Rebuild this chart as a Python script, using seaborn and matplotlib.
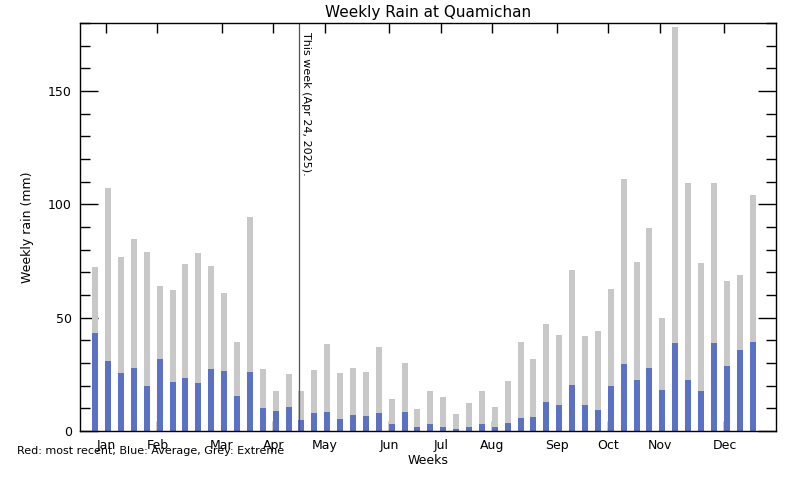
import numpy as np
import matplotlib
matplotlib.use("Agg")
import matplotlib.pyplot as plt
import seaborn as sns
import pandas as pd
from matplotlib.ticker import MultipleLocator

# Datos semanales (mm)
weeks = list(range(1, 53))
extreme = [72.3, 107.2, 76.8, 84.7, 79.0, 64.0, 62.2, 73.7, 78.5, 72.8,
           60.9, 39.3, 94.4, 27.3, 17.6, 25.1, 17.6, 26.9, 38.4, 25.6,
           27.8, 26.0, 37.1, 14.1, 30.0, 9.7, 17.6, 15.0, 7.5, 12.4,
           17.6, 10.6, 22.1, 39.3, 31.8, 47.2, 42.3, 71.0, 41.9, 44.1,
           62.6, 111.2, 74.5, 89.5, 49.8, 178.2, 109.4, 74.1, 109.4, 66.2,
           68.8, 104.1]
average = [43.2, 30.9, 25.6, 27.8, 19.8, 31.8, 21.6, 23.4, 21.2, 27.3,
           26.5, 15.4, 25.9, 10.1, 8.8, 10.6, 4.9, 7.9, 8.4, 5.3,
           7.1, 6.6, 7.9, 3.1, 8.4, 1.8, 3.1, 1.8, 0.9, 1.8,
           3.1, 1.8, 3.5, 5.7, 6.2, 12.8, 11.5, 20.3, 11.5, 9.3,
           19.8, 29.6, 22.5, 27.8, 18.1, 38.8, 22.5, 17.6, 38.8, 28.7,
           35.7, 39.3]
month_labels = ["Jan", "Feb", "Mar", "Apr", "May", "Jun", "Jul", "Aug", "Sep", "Oct", "Nov", "Dec"]
month_weeks = [2, 6, 11, 15, 19, 24, 28, 32, 37, 41, 45, 50]
this_week = 17

df = pd.DataFrame({"week": np.array(weeks) + 0.18, "extreme": extreme, "average": average})

sns.set_style("white")
plt.rcParams['font.family'] = ['DejaVu Sans']
plt.rcParams['text.color'] = 'black'
plt.rcParams['axes.labelcolor'] = 'black'
plt.rcParams['xtick.color'] = 'black'
plt.rcParams['ytick.color'] = 'black'

fig = plt.figure(figsize=(8, 4.8), dpi=100)
ax = fig.add_axes([0.1, 0.102, 0.87, 0.85])

sns.barplot(data=df, x="week", y="extreme", native_scale=True, width=0.47,
            color="#c8c8c8", saturation=1, linewidth=0, ax=ax)
sns.barplot(data=df, x="week", y="average", native_scale=True, width=0.47,
            color="#5b72c4", saturation=1, linewidth=0, ax=ax)

ax.set_xlim(0, 54)
ax.set_ylim(0, 180)

ax.axvline(this_week, color="#555555", lw=0.9)
ax.text(this_week + 0.15, 176, "This week (Apr 24, 2025).", rotation=270,
        ha="left", va="top", fontsize=8)

ax.set_xticks(month_weeks)
ax.set_xticklabels(month_labels, fontsize=9)
ax.yaxis.set_major_locator(MultipleLocator(50))
ax.yaxis.set_minor_locator(MultipleLocator(10))
ax.tick_params(axis="x", which="major", direction="in", length=7, width=1,
               top=True, bottom=True, pad=6)
ax.tick_params(axis="y", which="major", direction="in", length=13, width=1,
               left=True, right=True, labelsize=9, pad=6)
ax.tick_params(axis="y", which="minor", direction="in", length=7, width=1,
               left=True, right=True)
for s in ax.spines.values():
    s.set_color("black")
    s.set_linewidth(1)

ax.set_xlabel("Weeks", fontsize=9, labelpad=1)
ax.set_ylabel("Weekly rain (mm)", fontsize=9, labelpad=10)
ax.set_title("Weekly Rain at Quamichan", fontsize=11, pad=4)

fig.text(17 / 800, 1 - 451 / 480, "Red: most recent, Blue: Average, Grey: Extreme",
         fontsize=8, va="center", ha="left")

fig.savefig("out.png", dpi=100)
